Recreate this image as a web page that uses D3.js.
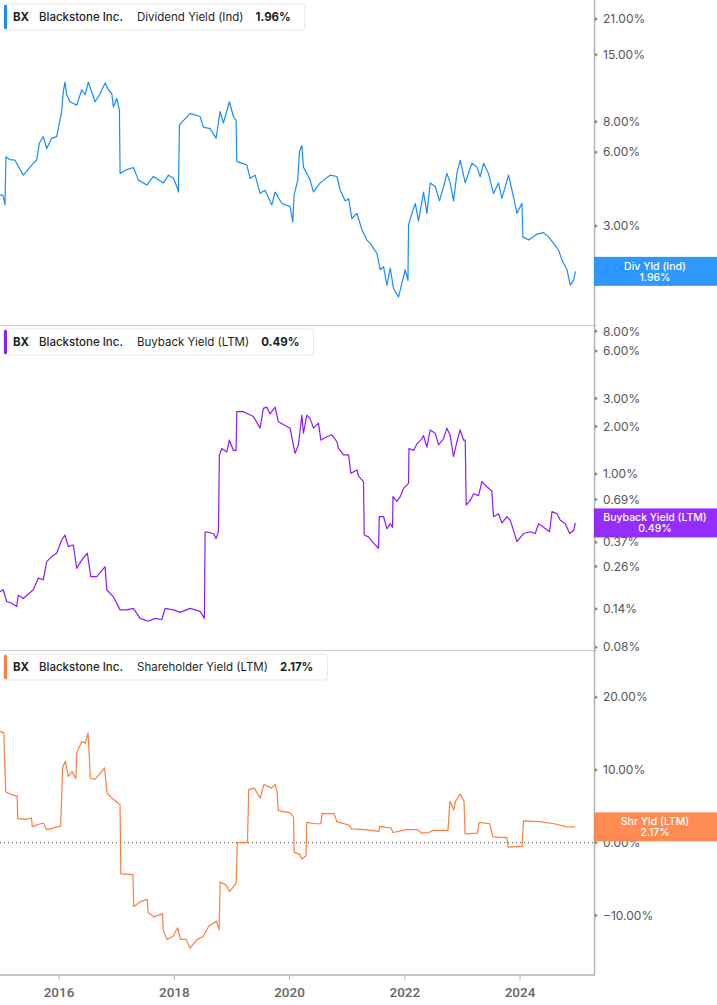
<!DOCTYPE html>
<html><head><meta charset="utf-8">
<script src="https://cdn.jsdelivr.net/npm/d3@7"></script>
<style>
body{margin:0;background:#fff;}
svg{display:block;font-family:Inter,'Noto Sans',sans-serif;}
</style>
</head><body>
<svg id="chart" width="717" height="1005"></svg>
<script>
// ---- Data (dates as decimal years, values in %) ----
const divDates = [2014.975,2015.027,2015.062,2015.079,2015.149,2015.235,2015.380,2015.553,2015.612,2015.657,2015.727,2015.786,2015.873,2015.959,2015.987,2016.046,2016.074,2016.103,2016.133,2016.190,2016.307,2016.393,2016.451,2016.508,2016.624,2016.711,2016.798,2016.855,2016.914,2016.942,2017.001,2017.046,2017.058,2017.175,2017.289,2017.376,2017.522,2017.636,2017.810,2017.897,2017.984,2018.043,2018.071,2018.088,2018.129,2018.274,2018.447,2018.505,2018.621,2018.725,2018.794,2018.852,2018.956,2019.025,2019.072,2019.084,2019.258,2019.315,2019.402,2019.489,2019.576,2019.692,2019.749,2019.866,2020.009,2020.057,2020.079,2020.143,2020.171,2020.213,2020.241,2020.299,2020.357,2020.414,2020.531,2020.588,2020.704,2020.821,2020.878,2020.965,2021.022,2021.081,2021.168,2021.255,2021.341,2021.399,2021.515,2021.572,2021.630,2021.688,2021.746,2021.803,2021.890,2021.949,2022.006,2022.053,2022.064,2022.122,2022.180,2022.237,2022.324,2022.383,2022.440,2022.527,2022.602,2022.671,2022.730,2022.787,2022.845,2022.904,2022.961,2023.048,2023.164,2023.251,2023.308,2023.366,2023.452,2023.539,2023.626,2023.685,2023.800,2023.886,2023.945,2024.032,2024.049,2024.147,2024.293,2024.407,2024.494,2024.581,2024.668,2024.727,2024.813,2024.871,2024.928,2024.958];
const divValues = [4.02,4.0,3.66,5.75,5.6,5.57,4.84,5.41,5.57,6.53,6.95,6.22,6.84,6.95,7.5,8.8,10.6,11.6,10.3,9.65,9.35,10.8,10.3,11.6,9.65,10.4,11.5,10.8,10.4,9.2,9.95,8.9,4.92,5.1,5.2,4.62,4.41,4.78,4.5,4.84,4.7,4.35,4.13,7.75,7.95,8.65,8.4,7.6,7.5,6.84,8.8,7.9,9.65,8.4,8.1,5.5,5.33,4.7,4.84,4.08,4.2,3.66,4.13,3.71,3.6,3.12,4.02,4.62,6.04,6.4,5.22,4.92,4.62,4.13,4.5,4.62,4.84,4.78,4.2,3.8,3.88,3.22,3.38,2.89,2.63,2.55,2.32,1.99,2.05,1.72,2.02,1.67,1.54,1.76,1.99,1.80,3.03,3.38,3.71,3.15,4.13,3.38,4.5,4.35,3.8,4.35,4.92,4.5,3.8,4.92,5.57,4.5,5.41,5.22,4.77,5.41,4.92,4.07,4.5,3.89,4.84,3.95,3.38,3.71,2.71,2.63,2.78,2.82,2.71,2.55,2.39,2.18,1.99,1.72,1.81,1.96];

const buyDates = [2014.975,2015.032,2015.091,2015.178,2015.265,2015.293,2015.380,2015.553,2015.640,2015.727,2015.786,2015.873,2015.959,2016.046,2016.103,2016.161,2016.248,2016.307,2016.393,2016.491,2016.550,2016.654,2016.798,2016.827,2016.942,2017.058,2017.175,2017.289,2017.405,2017.550,2017.666,2017.782,2017.840,2017.984,2018.100,2018.274,2018.447,2018.522,2018.534,2018.678,2018.725,2018.765,2018.782,2018.824,2018.911,2018.956,2019.025,2019.072,2019.084,2019.199,2019.373,2019.489,2019.546,2019.605,2019.662,2019.749,2019.807,2020.009,2020.096,2020.154,2020.213,2020.241,2020.299,2020.357,2020.414,2020.501,2020.543,2020.647,2020.734,2020.821,2020.848,2020.935,2021.022,2021.063,2021.168,2021.195,2021.282,2021.294,2021.369,2021.456,2021.543,2021.555,2021.630,2021.688,2021.746,2021.786,2021.793,2021.862,2021.919,2021.977,2022.064,2022.070,2022.150,2022.209,2022.296,2022.324,2022.383,2022.440,2022.527,2022.584,2022.671,2022.730,2022.787,2022.845,2022.904,2022.961,2023.018,2023.048,2023.065,2023.135,2023.192,2023.279,2023.338,2023.424,2023.511,2023.539,2023.626,2023.685,2023.772,2023.829,2023.886,2023.945,2024.060,2024.176,2024.263,2024.320,2024.407,2024.511,2024.553,2024.640,2024.697,2024.784,2024.859,2024.928,2024.958];
const buyValues = [0.18,0.185,0.156,0.152,0.145,0.171,0.163,0.185,0.219,0.214,0.279,0.30,0.315,0.382,0.411,0.347,0.355,0.253,0.285,0.315,0.224,0.224,0.259,0.185,0.167,0.138,0.138,0.141,0.122,0.117,0.122,0.12,0.141,0.138,0.133,0.141,0.135,0.122,0.431,0.42,0.39,0.431,1.32,1.45,1.38,1.64,1.41,1.41,2.48,2.48,2.31,1.95,2.6,2.65,2.4,2.65,2.14,1.95,1.35,1.53,2.36,1.81,2.36,2.24,1.95,2.1,1.64,1.72,1.77,1.6,1.45,1.32,1.32,1.01,1.06,0.97,0.894,0.411,0.40,0.365,0.339,0.537,0.537,0.45,0.485,0.46,0.719,0.67,0.719,0.81,0.873,1.45,1.41,1.55,1.67,1.75,1.48,1.9,1.81,1.53,1.67,1.95,1.75,1.29,1.6,1.9,1.64,1.64,0.636,0.68,0.75,0.73,0.894,0.83,0.78,0.537,0.56,0.49,0.537,0.51,0.44,0.373,0.42,0.431,0.42,0.485,0.46,0.431,0.578,0.56,0.51,0.485,0.42,0.44,0.49];

const shrDates = [2014.975,2015.041,2015.074,2015.173,2015.272,2015.284,2015.437,2015.522,2015.536,2015.635,2015.732,2015.779,2015.897,2016.029,2016.062,2016.109,2016.161,2016.227,2016.293,2016.307,2016.392,2016.458,2016.503,2016.543,2016.623,2016.722,2016.788,2016.833,2016.919,2016.984,2017.057,2017.070,2017.281,2017.294,2017.413,2017.531,2017.544,2017.643,2017.794,2017.808,2017.874,2017.973,2018.058,2018.105,2018.204,2018.270,2018.400,2018.499,2018.598,2018.730,2018.777,2018.796,2018.895,2018.961,2019.074,2019.093,2019.270,2019.291,2019.390,2019.489,2019.555,2019.687,2019.751,2019.784,2019.805,2020.015,2020.069,2020.081,2020.180,2020.213,2020.286,2020.298,2020.444,2020.543,2020.562,2020.773,2020.819,2021.036,2021.069,2021.300,2021.550,2021.564,2021.761,2021.794,2022.025,2022.223,2022.289,2022.419,2022.485,2022.749,2022.782,2022.848,2022.881,2022.961,2023.027,2023.046,2023.263,2023.289,2023.473,2023.527,2023.770,2023.791,2024.034,2024.060,2024.331,2024.595,2024.793,2024.958];
const shrValues = [15.3,15.1,7.0,6.6,6.4,3.3,3.2,3.4,2.2,2.5,2.7,1.8,2.0,2.3,10.3,11.2,9.1,9.8,8.8,12.3,13.9,13.7,15.1,8.9,8.7,9.6,10.3,6.8,6.1,5.7,5.2,-4.3,-4.4,-8.8,-8.1,-7.8,-9.6,-10.2,-9.8,-12.1,-13.3,-12.9,-11.7,-13.3,-13.3,-14.5,-13.3,-12.9,-11.5,-10.8,-12.0,-5.4,-5.8,-6.7,-5.6,0,0,7.3,7.5,6.1,8.0,7.5,8.0,7.0,4.4,4.1,3.5,-1.3,-1.65,-2.25,-1.8,2.8,2.6,2.6,4.0,4.0,2.9,2.4,1.9,1.8,1.55,2.25,2.0,1.4,1.8,1.8,1.3,1.4,1.7,1.7,5.7,4.5,5.7,6.7,5.7,1.2,1.3,2.8,2.6,0.8,0.7,-0.6,-0.5,3.0,2.9,2.6,2.2,2.17];

const divTicks = [21, 15, 8, 6, 3, 2];
const buyTicks = [8, 6, 3, 2, 1, 0.69, 0.37, 0.26, 0.14, 0.08];
const shrTicks = [20, 10, 0, -10];
const yearTicks = [2016, 2018, 2020, 2022, 2024];

const legendTexts = [
  ["BX", "Blackstone Inc.", "Dividend Yield (Ind)", "1.96%"],
  ["BX", "Blackstone Inc.", "Buyback Yield (LTM)", "0.49%"],
  ["BX", "Blackstone Inc.", "Shareholder Yield (LTM)", "2.17%"]
];
const tagTexts = [["Div Yld (Ind)", "1.96%"], ["Buyback Yield (LTM)", "0.49%"], ["Shr Yld (LTM)", "2.17%"]];
const lastValues = [1.96, 0.49, 2.17];

// ---- helpers ----
function decToDate(d) {
  const y = Math.floor(d);
  const start = Date.UTC(y, 0, 1), end = Date.UTC(y + 1, 0, 1);
  return new Date(start + (d - y) * (end - start));
}

const svg = d3.select("#chart");
const W = 717, plotRight = 594.5, axisBottom = 975;
const panelTops = [0, 325, 650], panelH = 325;
const colors = ["#1a8cff", "#8a1cff", "#ff7d3d"];
const tagColors = ["#1e90ff", "#8b1eff", "#ff8246"];

const x = d3.scaleUtc()
  .domain([new Date(Date.UTC(2014, 11, 23)), new Date(Date.UTC(2025, 3, 20))])
  .range([0, 595]);

const yScales = [
  d3.scaleLog().domain([1.184, 25.1]).range([325, 0]),
  d3.scaleLog().domain([0.0769, 8.77]).range([650, 325]),
  d3.scaleLinear().domain([-18.2, 26.5]).range([975, 650])
];
const series = [
  divDates.map((d, i) => ({date: decToDate(d), v: divValues[i]})),
  buyDates.map((d, i) => ({date: decToDate(d), v: buyValues[i]})),
  shrDates.map((d, i) => ({date: decToDate(d), v: shrValues[i]}))
];
const ticks = [divTicks, buyTicks, shrTicks];

const defs = svg.append("defs");
panelTops.forEach((t, i) => {
  defs.append("clipPath").attr("id", "clip" + i)
    .append("rect").attr("x", 0).attr("y", t).attr("width", 594).attr("height", panelH);
});

// separators
[325.5, 650.5].forEach(yy => {
  svg.append("line").attr("x1", 0).attr("x2", 597).attr("y1", yy).attr("y2", yy)
    .attr("stroke", "#cfcfcf").attr("stroke-width", 1);
});

// zero dotted line
svg.append("line").attr("x1", 0).attr("x2", 594).attr("y1", yScales[2](0)).attr("y2", yScales[2](0))
  .attr("stroke", "#444").attr("stroke-width", 1).attr("stroke-dasharray", "1,3");

// lines
series.forEach((s, i) => {
  const line = d3.line().x(d => x(d.date)).y(d => yScales[i](d.v));
  svg.append("path").datum(s).attr("d", line)
    .attr("clip-path", `url(#clip${i})`)
    .attr("fill", "none").attr("stroke", colors[i]).attr("stroke-width", 1.2)
    .attr("stroke-linejoin", "round");
});

// right axis line
svg.append("line").attr("x1", plotRight).attr("x2", plotRight).attr("y1", 0).attr("y2", axisBottom)
  .attr("stroke", "#b5b5b5").attr("stroke-width", 1.5);
// bottom axis line
svg.append("line").attr("x1", 0).attr("x2", plotRight + 0.75).attr("y1", axisBottom).attr("y2", axisBottom)
  .attr("stroke", "#b5b5b5").attr("stroke-width", 1.5);

// y ticks
ticks.forEach((tk, i) => {
  const g = svg.append("g");
  tk.forEach(v => {
    const yy = yScales[i](v);
    g.append("path").attr("d", `M595,${yy - 2}L598,${yy}L595,${yy + 2}Z`).attr("fill", "#888");
    g.append("text").attr("x", 603).attr("y", yy).attr("dy", "0.35em")
      .attr("font-size", 12).attr("fill", "#555")
      .text(d3.format(".2f")(v) + "%");
  });
});

// x ticks
yearTicks.forEach(yr => {
  const xx = x(new Date(Date.UTC(yr, 0, 1)));
  svg.append("line").attr("x1", xx).attr("x2", xx).attr("y1", axisBottom).attr("y2", axisBottom + 5)
    .attr("stroke", "#b5b5b5").attr("stroke-width", 1);
  svg.append("text").attr("x", xx).attr("y", 997).attr("text-anchor", "middle")
    .attr("font-family", "Roboto, sans-serif").attr("font-weight", 500)
    .attr("font-size", 13.5).attr("fill", "#666").text(yr);
});

// right value tags
lastValues.forEach((v, i) => {
  const cy = yScales[i](v);
  const g = svg.append("g");
  g.append("rect").attr("x", 594).attr("y", cy - 14.5).attr("width", W - 594).attr("height", 29)
    .attr("fill", tagColors[i]).attr("fill-opacity", 0.93);
  g.append("text").attr("x", 655).attr("y", cy - 5.5).attr("dy", "0.35em").attr("text-anchor", "middle")
    .attr("font-size", 10.5).attr("font-weight", 500).attr("fill", "#fff").text(tagTexts[i][0]);
  g.append("text").attr("x", 655).attr("y", cy + 5.5).attr("dy", "0.35em").attr("text-anchor", "middle")
    .attr("font-size", 10.5).attr("font-weight", 500).attr("fill", "#fff").text(tagTexts[i][1]);
});

// legends
legendTexts.forEach((lt, i) => {
  const top = panelTops[i] + 4;
  const g = svg.append("g");
  const box = g.append("rect").attr("x", 4).attr("y", top).attr("height", 26).attr("rx", 3)
    .attr("fill", "#fff").attr("stroke", "#e6e6e6").attr("stroke-width", 1);
  g.append("rect").attr("x", 4).attr("y", top + 1).attr("width", 3).attr("height", 24).attr("rx", 1)
    .attr("fill", colors[i]);
  const weights = [700, 500, 400, 700];
  const xs = [13, 39, 137];
  let lastX = 0;
  lt.forEach((t, k) => {
    const px = k < 3 ? xs[k] : lastX + 12;
    const tx = g.append("text").attr("x", px).attr("y", top + 13).attr("dy", "0.35em")
      .attr("font-size", 11.5).attr("font-weight", weights[k]).attr("fill", "#1f1f1f").text(t);
    lastX = px + tx.node().getComputedTextLength();
  });
  box.attr("width", lastX + 14 - 4);
});
</script>
</body></html>
